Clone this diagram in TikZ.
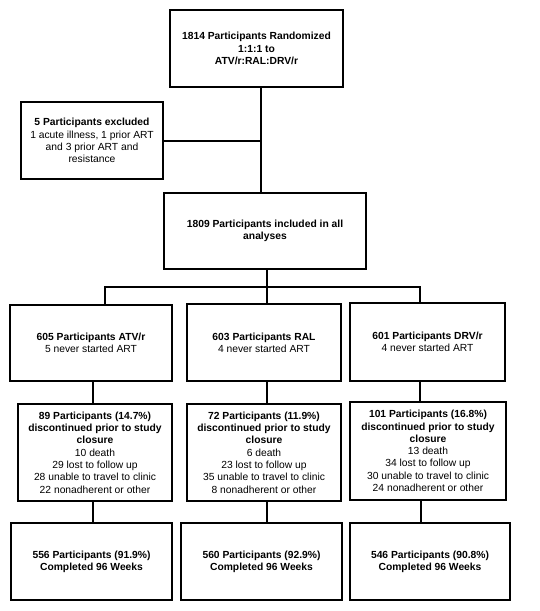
\documentclass[tikz,border=0pt]{standalone}
\usepackage{fontspec}
\setmainfont{Liberation Sans}
\usetikzlibrary{arrows,shapes,arrows.meta}

\tikzset{
  box/.style={draw, line width=2pt, align=center, inner sep=2pt,
    font=\fontsize{10.3}{12.3}\selectfont},
  link/.style={line width=2pt},
}

\begin{document}
\begin{tikzpicture}[x=1pt,y=-1pt]
        % \draw[help lines,step=50] (0,0) grid (539,611);
        \useasboundingbox (0,0) rectangle (539,611);

        \node[box, minimum width=173pt, minimum height=77pt] (rand) at (256.5,48.5)
          {\textbf{1814 Participants Randomized}\\\textbf{1:1:1 to}\\\textbf{ATV/r:RAL:DRV/r}};
        \node[box, minimum width=142pt, minimum height=77pt] (excl) at (92,140.5)
          {\textbf{5 Participants excluded}\\1 acute illness, 1 prior ART\\and 3 prior ART and\\resistance};
        \node[box, minimum width=202pt, minimum height=76pt] (incl) at (265,231)
          {\textbf{1809 Participants included in all}\\\textbf{analyses}};

        % arms
        \node[box, minimum width=162pt, minimum height=76pt] (atv) at (91,343)
          {\textbf{605 Participants ATV/r}\\5 never started ART};
        \node[box, minimum width=154pt, minimum height=77pt] (ral) at (264,342.5)
          {\textbf{603 Participants RAL}\\4 never started ART};
        \node[box, minimum width=155pt, minimum height=78pt] (drv) at (427.5,342)
          {\textbf{601 Participants DRV/r}\\4 never started ART};

        % discontinued
        \node[box, minimum width=154pt, minimum height=97pt] (atvstop) at (95,452.5)
          {\textbf{89 Participants (14.7\%)}\\\textbf{discontinued prior to study}\\\textbf{closure}\\
           10 death\\29 lost to follow up\\28 unable to travel to clinic\\22 nonadherent or other};
        \node[box, minimum width=154pt, minimum height=97pt] (ralstop) at (264,452.5)
          {\textbf{72 Participants (11.9\%)}\\\textbf{discontinued prior to study}\\\textbf{closure}\\
           6 death\\23 lost to follow up\\35 unable to travel to clinic\\8 nonadherent or other};
        \node[box, minimum width=156pt, minimum height=98pt] (drvstop) at (428,451)
          {\textbf{101 Participants (16.8\%)}\\\textbf{discontinued prior to study}\\\textbf{closure}\\
           13 death\\34 lost to follow up\\30 unable to travel to clinic\\24 nonadherent or other};

        % completed
        \node[box, minimum width=161pt, minimum height=77pt] (atvdone) at (91.5,561.5)
          {\textbf{556 Participants (91.9\%)}\\\textbf{Completed 96 Weeks}};
        \node[box, minimum width=161pt, minimum height=77pt] (raldone) at (261.5,561.5)
          {\textbf{560 Participants (92.9\%)}\\\textbf{Completed 96 Weeks}};
        \node[box, minimum width=160pt, minimum height=77pt] (drvdone) at (430,561.5)
          {\textbf{546 Participants (90.8\%)}\\\textbf{Completed 96 Weeks}};

        % randomized to included, exclusions off the side
        \coordinate (trunk) at (261,139);
        \draw[link] (rand.south -| trunk) -- (incl.north -| trunk);
        \draw[link] (excl.east) -- (excl.east -| trunk);

        % included to the three arms
        \draw[link] ([xshift=2pt]incl.south) -- ++(0,17) coordinate (fork);
        \draw[link] ([xshift=14pt]atv.north) |- (fork) -| ([xshift=-8pt]drv.north);
        \draw[link] (fork) -- (fork |- ral.north);

        % arms down to discontinued
        \draw[link] ([xshift=2pt]atv.south) -- ([xshift=-2pt]atvstop.north);
        \draw[link] ([xshift=3pt]ral.south) -- ([xshift=3pt]ralstop.north);
        \draw[link] ([xshift=-8pt]drv.south) -- ([xshift=-8.5pt]drvstop.north);

        % discontinued down to completed
        \draw[link] ([xshift=-2pt]atvstop.south) -- ([xshift=1.5pt]atvdone.north);
        \draw[link] ([xshift=3pt]ralstop.south) -- ([xshift=5.5pt]raldone.north);
        \draw[link] ([xshift=-7pt]drvstop.south) -- ([xshift=-9pt]drvdone.north);

\end{tikzpicture}
\end{document}
